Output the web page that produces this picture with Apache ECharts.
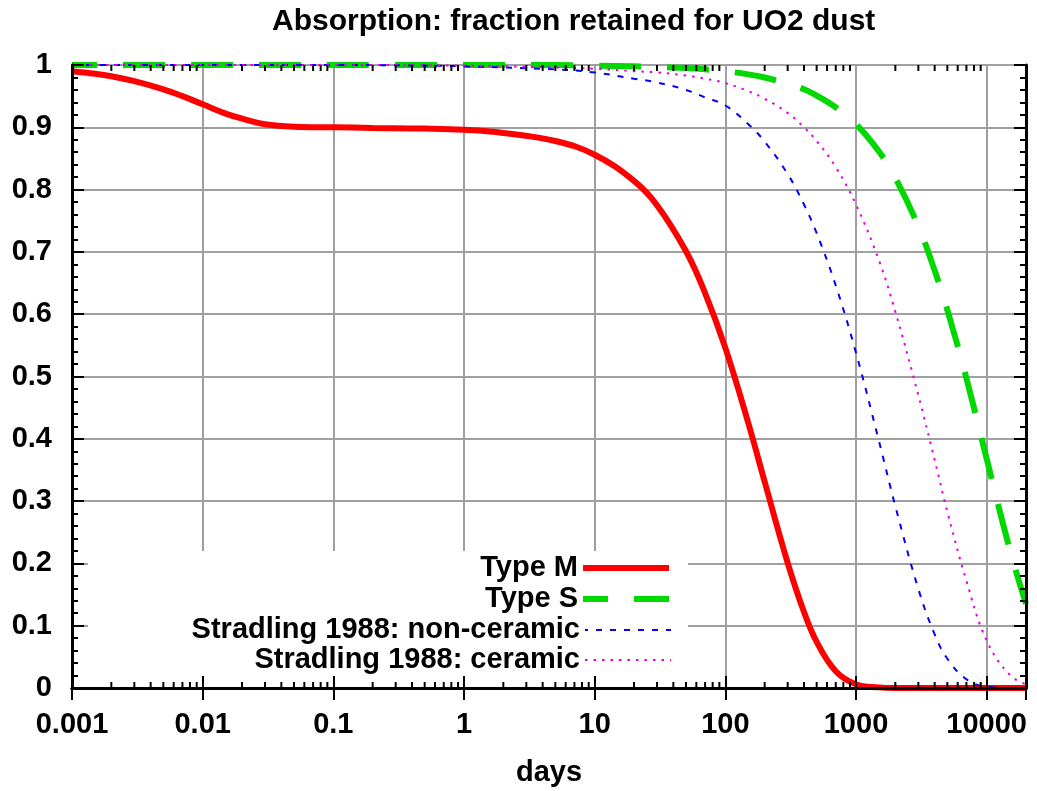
<!DOCTYPE html>
<html>
<head>
<meta charset="utf-8">
<title>Absorption: fraction retained for UO2 dust</title>
<script src="https://cdn.jsdelivr.net/npm/echarts@6/dist/echarts.min.js"></script>
<style>
    html, body { margin: 0; padding: 0; background: #fff; }
    #chart { width: 1037px; height: 791px; }
</style>
</head>
<body>
<div id="chart"></div>
<script>
    // days after intake (x, log scale)
    const days = [0.001, 0.0015, 0.002, 0.003, 0.005, 0.007, 0.01, 0.015, 0.02, 0.03, 0.05, 0.1, 0.2, 0.5, 1, 2, 5, 10, 20, 30, 50, 70,
        100, 150, 200, 300, 400, 500, 700, 1000, 1500, 2000, 3000, 4000, 5000, 7000, 10000, 15000, 20000];

    // fraction retained
    const typeM = [0.990, 0.986, 0.982, 0.974, 0.961, 0.950, 0.937, 0.922, 0.914, 0.905, 0.901, 0.900, 0.899, 0.898, 0.896, 0.891, 0.878, 0.856, 0.814, 0.775, 0.701, 0.634,
        0.546, 0.425, 0.331, 0.201, 0.122, 0.074, 0.027, 0.006, 0.001, 0, 0, 0, 0, 0, 0, 0, 0];
    const typeS = [1, 1, 1, 1, 1, 1, 1, 1, 1, 1, 1, 1, 1, 1, 1, 1, 1, 0.999, 0.998, 0.997, 0.995, 0.993,
        0.990, 0.985, 0.980, 0.970, 0.961, 0.951, 0.932, 0.905, 0.861, 0.819, 0.741, 0.670, 0.607, 0.497, 0.368, 0.223, 0.135];
    const nonCeramic = [1, 1, 1, 1, 1, 1, 1, 1, 1, 1, 1, 1, 0.9998, 0.999, 0.998, 0.996, 0.993, 0.988, 0.978, 0.972, 0.960, 0.948,
        0.935, 0.905, 0.877, 0.825, 0.776, 0.730, 0.646, 0.538, 0.396, 0.292, 0.159, 0.086, 0.047, 0.014, 0.002, 0, 0];
    const ceramic = [1, 1, 1, 1, 1, 1, 1, 1, 1, 1, 1, 1, 1, 0.9995, 0.999, 0.998, 0.996, 0.994, 0.990, 0.988, 0.983, 0.978,
        0.971, 0.958, 0.946, 0.923, 0.900, 0.878, 0.836, 0.776, 0.686, 0.604, 0.470, 0.366, 0.283, 0.172, 0.076, 0.021, 0.006];

    const seriesNames = ['Type M', 'Type S', 'Stradling 1988: non-ceramic', 'Stradling 1988: ceramic'];
    const seriesColors = ['#ff0000', '#00d800', '#0000ff', '#e600e6'];
    const legendRows = [568, 599, 630, 660];

    // minor ticks of the log axis: 2..9 in each decade
    const minorMults = [2, 3, 4, 5, 6, 7, 8, 9];
    const decades = [0.001, 0.01, 0.1, 1, 10, 100, 1000];
    const minorTicks = [];
    decades.forEach(function (d) {
        minorMults.forEach(function (m) {
            minorTicks.push([+(d * m).toPrecision(3), 0]);
        });
    });

    const font = "'Liberation Sans', Arial, sans-serif";

    function pairs(ys) {
        return days.map(function (d, i) { return [d, ys[i]]; });
    }

    const myChart = echarts.init(document.getElementById('chart'), null, {renderer: 'canvas'});

    const lineStyles = [
        {color: seriesColors[0], width: 6, type: 'solid'},
        {color: seriesColors[1], width: 6, type: [42, 26], dashOffset: 17},
        {color: seriesColors[2], width: 2, type: [6, 8]},
        {color: seriesColors[3], width: 2, type: [2.5, 6]}
    ];

    const xBase = {
        type: 'log',
        logBase: 10,
        min: 0.001,
        max: 20000
    };
    const yBase = {
        type: 'value',
        min: 0,
        max: 1,
        interval: 0.1
    };
    const frameLine = {show: true, lineStyle: {color: '#000', width: 3}};
    const majorTick = {show: true, inside: true, length: 12, lineStyle: {color: '#000', width: 2}};
    const minorTick = {show: true, splitNumber: 5, length: 6, lineStyle: {color: '#000', width: 2}};

    const option = {
        animation: false,
        backgroundColor: '#fff',
        textStyle: {fontFamily: font},
        title: {
            text: 'Absorption: fraction retained for UO2 dust',
            left: 272,
            top: 7,
            padding: 0,
            textStyle: {fontFamily: font, fontSize: 30, fontWeight: 'bold', color: '#000'}
        },
        grid: {left: 72, right: 11, top: 65, bottom: 103, containLabel: false, outerBoundsMode: 'none'},
        // white box behind the key, hides the grid lines there
        graphic: [{
            type: 'rect',
            left: 88,
            top: 551,
            z: 1,
            shape: {width: 600, height: 135},
            style: {fill: '#fff'}
        }],
        legend: seriesNames.map(function (name, i) {
            return {
                data: [name],
                right: 365,
                top: legendRows[i] - 15,
                padding: 0,
                align: 'right',
                itemWidth: 86,
                itemHeight: 14,
                itemStyle: {opacity: 0},
                lineStyle: lineStyles[i],
                selectedMode: false,
                textStyle: {fontFamily: font, fontSize: 29, fontWeight: 'bold', color: '#000', lineHeight: 30}
            };
        }),
        xAxis: [
            Object.assign({}, xBase, {
                position: 'bottom',
                z: 10,
                name: 'days',
                nameLocation: 'middle',
                nameGap: 70,
                nameTextStyle: {fontFamily: font, fontSize: 29, fontWeight: 'bold', color: '#000'},
                axisLine: frameLine,
                axisTick: majorTick,
                splitLine: {show: false},
                axisLabel: {
                    margin: 22,
                    fontFamily: font,
                    fontSize: 29,
                    fontWeight: 'bold',
                    color: '#000',
                    formatter: function (v) {
                        const e = Math.log10(v);
                        if (Math.abs(e - Math.round(e)) > 1e-6) return '';
                        return String(Number(v.toPrecision(3)));
                    }
                }
            }),
            Object.assign({}, xBase, {
                position: 'top',
                z: 10,
                axisLine: frameLine,
                axisTick: majorTick,
                axisLabel: {show: false},
                splitLine: {show: false}
            }),
            Object.assign({}, xBase, {
                position: 'bottom',
                z: 0,
                axisLine: {show: false},
                axisTick: {show: false},
                axisLabel: {show: false},
                splitLine: {show: true, lineStyle: {color: '#a0a0a0', width: 2}}
            })
        ],
        yAxis: [
            Object.assign({}, yBase, {
                position: 'left',
                z: 10,
                axisLine: frameLine,
                axisTick: majorTick,
                minorTick: minorTick,
                splitLine: {show: false},
                axisLabel: {margin: 20, fontFamily: font, fontSize: 29, fontWeight: 'bold', color: '#000'}
            }),
            Object.assign({}, yBase, {
                position: 'right',
                z: 10,
                axisLine: frameLine,
                axisTick: majorTick,
                minorTick: minorTick,
                axisLabel: {show: false},
                splitLine: {show: false}
            }),
            Object.assign({}, yBase, {
                position: 'left',
                z: 0,
                axisLine: {show: false},
                axisTick: {show: false},
                axisLabel: {show: false},
                splitLine: {show: true, lineStyle: {color: '#a0a0a0', width: 2}}
            })
        ],
        series: [typeM, typeS, nonCeramic, ceramic].map(function (ys, i) {
            return {
                name: seriesNames[i],
                type: 'line',
                data: pairs(ys),
                symbol: 'none',
                smooth: 0.4,
                clip: false,
                color: seriesColors[i],
                lineStyle: lineStyles[i]
            };
        }).concat([{
            // small inward ticks for 2..9 of each decade, bottom and top
            type: 'custom',
            silent: true,
            z: 11,
            data: minorTicks,
            renderItem: function (params, api) {
                const v = api.value(0);
                const b = api.coord([v, 0]);
                const t = api.coord([v, 1]);
                return {
                    type: 'group',
                    children: [
                        {type: 'line', shape: {x1: b[0], y1: b[1], x2: b[0], y2: b[1] - 6}, style: {stroke: '#000', lineWidth: 2}},
                        {type: 'line', shape: {x1: t[0], y1: t[1], x2: t[0], y2: t[1] + 6}, style: {stroke: '#000', lineWidth: 2}}
                    ]
                };
            }
        }])
    };

    myChart.setOption(option);
</script>
</body>
</html>
